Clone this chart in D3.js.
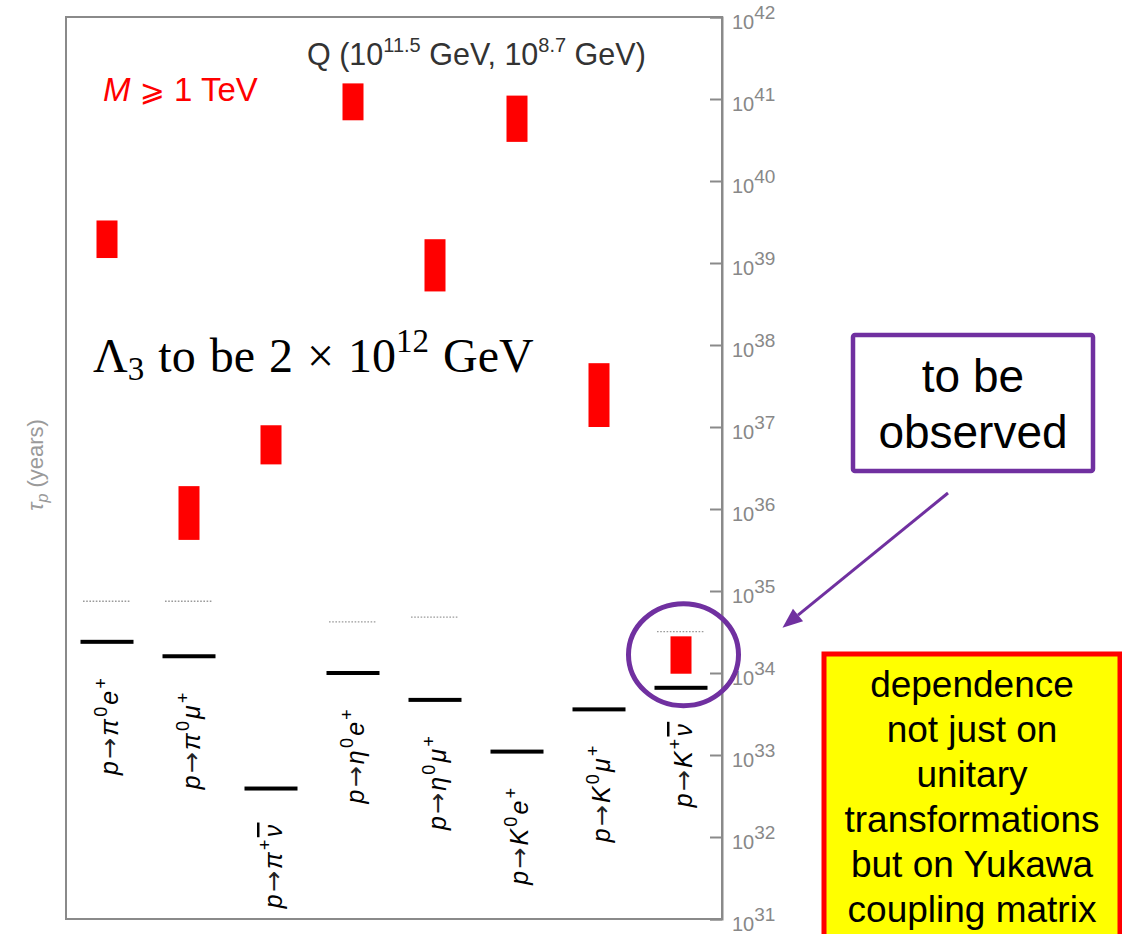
<!DOCTYPE html>
<html>
<head>
<meta charset="utf-8">
<script src="https://cdn.jsdelivr.net/npm/d3@7"></script>
<style>
  body { margin: 0; background: #fff; }
  svg { display: block; }
</style>
</head>
<body>
<svg id="chart" width="1122" height="934"></svg>
<script>
// Proton decay channels
const categories = ["pi0_e", "pi0_mu", "pip_nubar", "eta0_e", "eta0_mu", "K0_e", "K0_mu", "Kp_nubar"];

// Rich text for each channel label: [text, style]
const channelLabels = [
  [["p","i"],["→","arrow"],["π","i"],["0","sup"],["e","i"],["+","sup"]],
  [["p","i"],["→","arrow"],["π","i"],["0","sup"],["μ","i"],["+","sup"]],
  [["p","i"],["→","arrow"],["π","i"],["+","sup"],["ν","bar"]],
  [["p","i"],["→","arrow"],["η","i"],["0","sup"],["e","i"],["+","sup"]],
  [["p","i"],["→","arrow"],["η","i"],["0","sup"],["μ","i"],["+","sup"]],
  [["p","i"],["→","arrow"],["K","i"],["0","sup"],["e","i"],["+","sup"]],
  [["p","i"],["→","arrow"],["K","i"],["0","sup"],["μ","i"],["+","sup"]],
  [["p","i"],["→","arrow"],["K","i"],["+","sup"],["ν","bar"]]
];

// Lifetimes in years
const experimentLimit = [2.4e34, 1.6e34, 3.9e32, 1.0e34, 4.7e33, 1.1e33, 3.6e33, 6.6e33];
const futureReach     = [7.5e34, 7.5e34, null, 4.2e34, 4.8e34, null, null, 3.2e34];
const predictedLow    = [1.15e39, 4.2e35, 3.5e36, 5.5e40, 4.5e38, 3.0e40, 1.0e37, 9.8e33];
const predictedHigh   = [3.3e39, 1.9e36, 1.05e37, 1.55e41, 1.95e39, 1.1e41, 6.0e37, 2.8e34];

// Axis ticks (powers of ten)
const tickExponents = [31, 32, 33, 34, 35, 36, 37, 38, 39, 40, 41, 42];

const svg = d3.select("#chart");
const plot = { left: 66, right: 722, top: 17, bottom: 919 };
const sans = "Liberation Sans, Arial, sans-serif";

const x = d3.scaleBand().domain(categories).range([plot.left, plot.right]).padding(0);
const y = d3.scaleLog().domain([1e31, 1e42]).range([plot.bottom, plot.top]);
const cx = c => x(c) + x.bandwidth() / 2;

// Frame
svg.append("rect")
  .attr("x", plot.left).attr("y", plot.top)
  .attr("width", plot.right - plot.left).attr("height", plot.bottom - plot.top)
  .attr("fill", "none").attr("stroke", "#8a8a8a").attr("stroke-width", 2);

// Right-hand log axis
const axis = d3.axisRight(y)
  .tickValues(tickExponents.map(e => Math.pow(10, e)))
  .tickSize(-12).tickPadding(10)
  .tickFormat(() => "");
const gAxis = svg.append("g").attr("transform", `translate(${plot.right},0)`).call(axis);
gAxis.select(".domain").attr("stroke", "#8a8a8a").attr("stroke-width", 2);
gAxis.selectAll(".tick line").attr("stroke", "#8a8a8a").attr("stroke-width", 2);
gAxis.selectAll(".tick text").each(function(d) {
  const t = d3.select(this)
    .attr("fill", "#888").attr("font-family", sans)
    .attr("font-size", 20).attr("dy", 11);
  t.append("tspan").text("10");
  t.append("tspan").attr("font-size", 19).attr("dy", -10).text(Math.round(Math.log10(d)));
});

// Axis title
svg.append("text")
  .attr("transform", "translate(43,465) rotate(-90)")
  .attr("text-anchor", "middle")
  .attr("font-family", sans)
  .attr("font-size", 22).attr("fill", "#9a9a9a")
  .call(t => {
    t.append("tspan").attr("font-style", "italic").text("τ");
    t.append("tspan").attr("font-style", "italic").attr("font-size", 16).attr("dy", 5).text("p");
    t.append("tspan").attr("dy", -5).text(" (years)");
  });

const rows = categories.map((c, i) => ({
  c, i, limit: experimentLimit[i], reach: futureReach[i],
  lo: predictedLow[i], hi: predictedHigh[i], label: channelLabels[i]
}));

// Predicted lifetime ranges
svg.append("g").selectAll("rect").data(rows).join("rect")
  .attr("x", d => cx(d.c) - 10.5).attr("width", 21)
  .attr("y", d => y(d.hi)).attr("height", d => y(d.lo) - y(d.hi))
  .attr("fill", "#ff0000");

// Future sensitivity (dotted)
svg.append("g").selectAll("line").data(rows.filter(d => d.reach != null)).join("line")
  .attr("x1", d => cx(d.c) - 24).attr("x2", d => cx(d.c) + 24)
  .attr("y1", d => y(d.reach)).attr("y2", d => y(d.reach))
  .attr("stroke", "#9a9a9a").attr("stroke-width", 1.3).attr("stroke-dasharray", "1.6,1.6");

// Current experimental limits
svg.append("g").selectAll("rect").data(rows).join("rect")
  .attr("x", d => cx(d.c) - 26.5).attr("width", 53)
  .attr("y", d => y(d.limit) - 2).attr("height", 4)
  .attr("fill", "#000");

// Channel labels, rotated, under each limit bar
const fs = 25;
svg.append("g").selectAll("text").data(rows).join("text")
  .attr("transform", d => `translate(${cx(d.c) + 11},${y(d.limit) + 34}) rotate(-90)`)
  .attr("text-anchor", "end")
  .attr("font-family", sans)
  .attr("font-size", fs).attr("fill", "#000")
  .attr("letter-spacing", 2.2)
  .each(function(d) {
    const t = d3.select(this);
    let shift = 0;
    d.label.forEach(([txt, style]) => {
      const target = style === "sup" ? -0.45 * fs : 0;
      const s = t.append("tspan").attr("dy", target - shift).text(txt);
      shift = target;
      if (style === "sup") s.attr("font-size", fs * 0.72);
      if (style === "arrow") s.attr("font-family", "DejaVu Sans").attr("fill", "#222");
      if (style === "i" || style === "bar") s.attr("font-style", "italic");
      if (style === "bar") s.style("text-decoration", "overline");
    });
  });

// Headline annotations
svg.append("text")
  .attr("x", 103).attr("y", 101)
  .attr("font-family", sans)
  .attr("font-size", 33).attr("fill", "#ff0000")
  .call(t => {
    t.append("tspan").attr("font-style", "italic").text("M");
    t.append("tspan").text(" ");
    t.append("tspan").attr("font-family", "DejaVu Sans").attr("font-size", 30).text("⩾");
    t.append("tspan").text(" 1 TeV");
  });

svg.append("text")
  .attr("x", 307).attr("y", 65)
  .attr("font-family", sans)
  .attr("font-size", 30.5).attr("fill", "#333")
  .call(t => {
    t.append("tspan").text("Q (10");
    t.append("tspan").attr("font-size", 20).attr("dy", -13).text("11.5");
    t.append("tspan").attr("dy", 13).text(" GeV, 10");
    t.append("tspan").attr("font-size", 20).attr("dy", -13).text("8.7");
    t.append("tspan").attr("dy", 13).text(" GeV)");
  });

svg.append("text")
  .attr("x", 93).attr("y", 372)
  .attr("font-family", "Liberation Serif, 'Times New Roman', serif")
  .attr("font-size", 48).attr("fill", "#000")
  .attr("word-spacing", 2)
  .call(t => {
    t.append("tspan").text("Λ");
    t.append("tspan").attr("font-size", 33).attr("dy", 8).text("3");
    t.append("tspan").attr("dy", -8).text("  to be 2 × 10");
    t.append("tspan").attr("font-size", 33).attr("dy", -20).text("12");
    t.append("tspan").attr("dy", 20).text(" GeV");
  });

// Highlight around the K+ antineutrino channel
const hl = rows[7];
const hlx = cx(hl.c) + 2.5;
const hly = (y(hl.reach) + y(hl.limit)) / 2 - 5;
const purple = "#7030a0";
svg.append("ellipse")
  .attr("cx", hlx).attr("cy", hly).attr("rx", 55).attr("ry", 51)
  .attr("fill", "none").attr("stroke", purple).attr("stroke-width", 5);

// Callout box
svg.append("rect")
  .attr("x", 853).attr("y", 335).attr("width", 240).attr("height", 136).attr("rx", 2)
  .attr("fill", "#fff").attr("stroke", purple).attr("stroke-width", 4.5);
svg.append("text")
  .attr("x", 973).attr("text-anchor", "middle")
  .attr("font-family", sans)
  .attr("font-size", 46).attr("fill", "#000")
  .selectAll("tspan").data(["to be", "observed"]).join("tspan")
  .attr("x", 973).attr("y", (d, i) => 392 + i * 56).text(d => d);

// Arrow from the callout toward the highlighted channel
const a0 = [948, 493], a1 = [hlx + 99, hly - 27];
const ang = Math.atan2(a1[1] - a0[1], a1[0] - a0[0]);
const headLen = 20, headW = 8;
const base = [a1[0] - headLen * Math.cos(ang), a1[1] - headLen * Math.sin(ang)];
svg.append("line")
  .attr("x1", a0[0]).attr("y1", a0[1]).attr("x2", base[0]).attr("y2", base[1])
  .attr("stroke", purple).attr("stroke-width", 3);
svg.append("polygon")
  .attr("points", [
    a1,
    [base[0] + headW * Math.sin(ang), base[1] - headW * Math.cos(ang)],
    [base[0] - headW * Math.sin(ang), base[1] + headW * Math.cos(ang)]
  ].map(p => p.join(",")).join(" "))
  .attr("fill", purple);

// Yukawa note
svg.append("rect")
  .attr("x", 824).attr("y", 654).attr("width", 296).attr("height", 300)
  .attr("fill", "#ffff00").attr("stroke", "#ff0000").attr("stroke-width", 5);
svg.append("text")
  .attr("text-anchor", "middle")
  .attr("font-family", sans)
  .attr("font-size", 37).attr("fill", "#000")
  .selectAll("tspan")
  .data(["dependence", "not just on", "unitary", "transformations", "but on Yukawa", "coupling matrix"])
  .join("tspan")
  .attr("x", 972).attr("y", (d, i) => 697 + i * 45).text(d => d);
</script>
</body>
</html>
